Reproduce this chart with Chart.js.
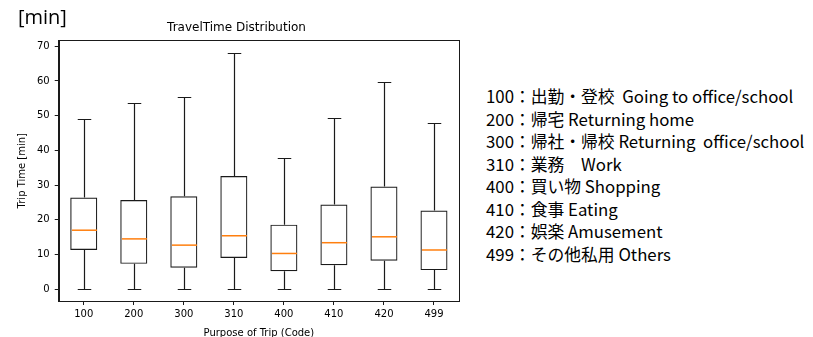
<!DOCTYPE html>
<html>
<head>
<meta charset="utf-8">
<script src="https://cdn.jsdelivr.net/npm/chart.js@4/dist/chart.umd.min.js"></script>
<style>
  html, body { margin: 0; padding: 0; background: #fff; }
  body { width: 813px; height: 337px; position: relative; overflow: hidden; }
  #wrap { position: absolute; left: 0; top: 0; width: 470px; height: 340px; }
  #unit { position: absolute; left: 18px; top: 3px; font: 20px "Open Sans", "Noto Sans", sans-serif; color: #000; }
  #legend { position: absolute; left: 486px; top: 85px; font: 16.8px "Noto Sans CJK JP", sans-serif; color: #000; line-height: 22.5px; white-space: pre; }
</style>
</head>
<body>
<div id="wrap"><canvas id="chartBox"></canvas></div>
<div id="unit">[min]</div>
<div id="legend"></div>

<script>
// purpose codes and box stats
const codes = ["100", "200", "300", "310", "400", "410", "420", "499"]
const whiskerLow = [0, 0, 0, 0, 0, 0, 0, 0]
const q1 = [11.3, 7.3, 6.2, 9.0, 5.2, 6.9, 8.2, 5.5]
const median = [17.0, 14.5, 12.7, 15.4, 10.3, 13.4, 15.1, 11.3]
const q3 = [26.4, 25.7, 26.8, 32.6, 18.6, 24.4, 29.6, 22.7]
const whiskerHigh = [49.0, 53.6, 55.3, 68.1, 37.8, 49.3, 59.7, 47.9]

const legendLines = [
  "100：出勤・登校  Going to office/school",
  "200：帰宅 Returning home",
  "300：帰社・帰校 Returning  office/school",
  "310：業務　Work",
  "400：買い物 Shopping",
  "410：食事 Eating",
  "420：娯楽 Amusement",
  "499：その他私用 Others"
]

document.getElementById("legend").textContent = legendLines.join("\n")

const LINE = "#1a1a1a"

// whiskers, caps, medians and the top/right frame
const boxExtras = {
  id: "boxExtras",
  afterDatasetsDraw(chart) {
    const { ctx, chartArea, scales } = chart
    const x = scales.x, y = scales.y
    const meta = chart.getDatasetMeta(0)
    ctx.save()
    codes.forEach((c, i) => {
      const bar = meta.data[i]
      const cx = Math.round(x.getPixelForValue(i)) + 0.5
      const half = bar.width / 2
      const capHalf = half / 2
      const yLo = Math.round(y.getPixelForValue(whiskerLow[i])) + 0.5
      const yHi = Math.round(y.getPixelForValue(whiskerHigh[i])) + 0.5
      const yQ1 = y.getPixelForValue(q1[i])
      const yQ3 = y.getPixelForValue(q3[i])
      ctx.lineWidth = 1.2
      ctx.strokeStyle = LINE
      ctx.beginPath()
      ctx.moveTo(cx, yQ1); ctx.lineTo(cx, yLo)
      ctx.moveTo(cx, yQ3); ctx.lineTo(cx, yHi)
      ctx.moveTo(cx - capHalf, yLo); ctx.lineTo(cx + capHalf, yLo)
      ctx.moveTo(cx - capHalf, yHi); ctx.lineTo(cx + capHalf, yHi)
      ctx.stroke()
      const yM = y.getPixelForValue(median[i])
      ctx.lineWidth = 1.5
      ctx.strokeStyle = "#ff7f0e"
      ctx.beginPath()
      ctx.moveTo(cx - half + 1, yM); ctx.lineTo(cx + half - 1, yM)
      ctx.stroke()
    })
    ctx.lineWidth = 1
    ctx.strokeStyle = LINE
    ctx.strokeRect(Math.round(chartArea.left) + 0.5, Math.round(chartArea.top) + 0.5,
      Math.round(chartArea.right - chartArea.left), Math.round(chartArea.bottom - chartArea.top))
    ctx.restore()
  }
}

const tickFont = { family: "DejaVu Sans", size: 10 }

new Chart(chartBox, {
  type: "bar",
  data: {
    labels: codes,
    datasets: [{
      data: codes.map((c, i) => [q1[i], q3[i]]),
      backgroundColor: "rgba(0,0,0,0)",
      borderColor: LINE,
      borderWidth: 1.2,
      borderSkipped: false,
      barPercentage: 0.54,
      categoryPercentage: 1
    }]
  },
  options: {
    responsive: true,
    maintainAspectRatio: false,
    animation: false,
    layout: { padding: { left: 14, right: 11, top: 0, bottom: 0 } },
    plugins: {
      legend: { display: false },
      tooltip: { enabled: false },
      title: {
        display: true,
        text: "TravelTime Distribution",
        color: "#000",
        font: { family: "DejaVu Sans", size: 12, weight: "normal" },
        padding: { top: 21, bottom: 5 }
      }
    },
    scales: {
      x: {
        offset: true,
        grid: { drawOnChartArea: false, drawTicks: true, tickLength: 4, color: LINE, offset: false },
        border: { color: LINE },
        ticks: { color: "#000", font: tickFont, padding: 3, maxRotation: 0 },
        title: {
          display: true, text: "Purpose of Trip (Code)", color: "#000",
          font: tickFont, padding: { top: 4, bottom: 1 }
        }
      },
      y: {
        min: -3.4,
        max: 71.7,
        grid: { drawOnChartArea: false, drawTicks: true, tickLength: 4, color: LINE },
        border: { color: LINE },
        ticks: { stepSize: 10, includeBounds: false, color: "#000", font: tickFont, padding: 5 },
        title: {
          display: true, text: "Trip Time [min]", color: "#000",
          font: tickFont, padding: { top: 2, bottom: 4 }
        }
      }
    }
  },
  plugins: [boxExtras]
})
</script>
</body>
</html>
